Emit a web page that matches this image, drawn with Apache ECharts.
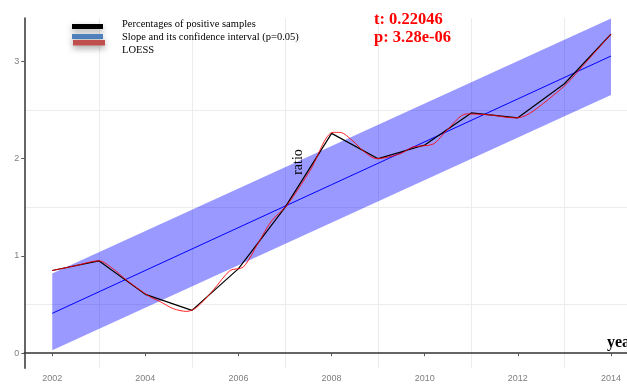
<!DOCTYPE html>
<html>
<head>
<meta charset="utf-8">
<script src="https://cdn.jsdelivr.net/npm/echarts@6/dist/echarts.min.js"></script>
<style>
  html, body { margin: 0; padding: 0; background: #fff; }
  #chart { width: 627px; height: 385px; }
</style>
</head>
<body>
<div id="chart"></div>
<script>
// Yearly share of positive samples
const years = [2002, 2003, 2004, 2005, 2006, 2007, 2008, 2009, 2010, 2011, 2012, 2013, 2014];
const ratio = [0.85, 0.95, 0.605, 0.44, 0.87, 1.50, 2.26, 2.00, 2.14, 2.47, 2.42, 2.77, 3.28];

// Linear trend and its 95% band, given at the first and last year
const fitYears = [2002, 2014];
const fitValues = [0.41, 3.055];
const bandLower = [0.03, 2.655];
const bandUpper = [0.82, 3.44];

// LOESS curve samples [year, value]
const loessYears = [2002.0, 2002.5, 2003.0, 2003.3, 2003.6, 2004.1, 2004.32, 2004.6, 2004.89, 2005.1, 2005.46,
  2005.82, 2006.1, 2006.42, 2006.71, 2007.04, 2007.54, 2008.03, 2008.18, 2008.46, 2008.68, 2008.97,
  2009.47, 2009.75, 2010.18, 2010.47, 2010.9, 2011.4, 2011.9, 2012.1, 2012.33, 2012.76, 2013.05, 2013.48, 2014.0];
const loessValues = [0.85, 0.90, 0.95, 0.87, 0.75, 0.58, 0.53, 0.458, 0.43, 0.47, 0.65,
  0.85, 0.885, 1.13, 1.36, 1.52, 1.88, 2.27, 2.27, 2.18, 2.08, 2.00,
  2.05, 2.12, 2.15, 2.29, 2.46, 2.45, 2.42, 2.43, 2.49, 2.65, 2.77, 3.00, 3.28];

const xTicks = [2002, 2004, 2006, 2008, 2010, 2012, 2014];
const yTicks = [0, 1, 2, 3];
const xGrid = [2003, 2005, 2007, 2009, 2011, 2013];
const yGrid = [0.5, 1.5, 2.5];

const legendNames = ['Percentages of positive samples', 'Slope and its confidence interval (p=0.05)', 'LOESS'];
const statLines = ['t: 0.22046', 'p: 3.28e-06'];

const chart = echarts.init(document.getElementById('chart'), null, { renderer: 'canvas' });

const axisLabelStyle = { color: '#7f7f7f', fontSize: 9, fontFamily: 'Liberation Sans, Arial, sans-serif' };

chart.setOption({
  animation: false,
  backgroundColor: '#ffffff',
  grid: { left: 24.3, top: 18.1, width: 602.7, height: 350.2, containLabel: false },
  xAxis: {
    type: 'value', min: 2001.4, max: 2014.344,
    axisLine: { show: true, lineStyle: { color: '#333', width: 1.5 } },
    axisTick: { show: true, customValues: xTicks, length: 3, lineStyle: { color: '#555' } },
    axisLabel: Object.assign({ customValues: xTicks, margin: 6, formatter: v => String(v) }, axisLabelStyle),
    splitLine: { show: false }
  },
  yAxis: {
    type: 'value', min: -0.155, max: 3.445,
    axisLine: { show: true, lineStyle: { color: '#333', width: 1.5 } },
    axisTick: { show: true, customValues: yTicks, length: 3, lineStyle: { color: '#555' } },
    axisLabel: Object.assign({ customValues: yTicks, margin: 5, formatter: v => String(v) }, axisLabelStyle),
    splitLine: { show: false }
  },
  series: [
    {
      // light grid lines between the labelled ticks
      type: 'line', data: [], silent: true, z: 0,
      markLine: {
        silent: true, symbol: 'none', label: { show: false }, animation: false, z: 0,
        lineStyle: { color: '#ececec', width: 1, type: 'solid' },
        data: xGrid.map(v => ({ xAxis: v })).concat(yGrid.map(v => ({ yAxis: v })))
      }
    },
    {
      // confidence band of the trend
      type: 'custom', silent: true, z: 2,
      data: [0],
      renderItem: function (params, api) {
        const pts = [];
        for (let i = 0; i < fitYears.length; i++) pts.push(api.coord([fitYears[i], bandUpper[i]]));
        for (let i = fitYears.length - 1; i >= 0; i--) pts.push(api.coord([fitYears[i], bandLower[i]]));
        return { type: 'polygon', shape: { points: pts }, style: { fill: 'rgba(0,0,255,0.4)' } };
      }
    },
    {
      type: 'line', name: legendNames[1], z: 3,
      data: fitYears.map((y, i) => [y, fitValues[i]]),
      symbol: 'none', lineStyle: { color: '#0000ff', width: 1 }
    },
    {
      type: 'line', name: legendNames[0], z: 4,
      data: years.map((y, i) => [y, ratio[i]]),
      symbol: 'none', lineStyle: { color: '#000000', width: 1.2 }
    },
    {
      type: 'line', name: legendNames[2], z: 5,
      data: loessYears.map((y, i) => [y, loessValues[i]]),
      symbol: 'none', smooth: 0.3, lineStyle: { color: '#ff0000', width: 1, opacity: 0.85 }
    }
  ],
  graphic: [
    // legend swatches
    { type: 'rect', z: 10, shape: { x: 72, y: 24, width: 31, height: 5 }, style: { fill: '#000', shadowBlur: 6, shadowColor: 'rgba(0,0,0,0.35)', shadowOffsetY: 3 } },
    { type: 'rect', z: 10, shape: { x: 72, y: 34, width: 31, height: 5 }, style: { fill: '#4f81bd', shadowBlur: 6, shadowColor: 'rgba(0,0,0,0.3)', shadowOffsetY: 3 } },
    { type: 'rect', z: 10, shape: { x: 73, y: 40, width: 32, height: 5.5 }, style: { fill: '#c0504d', shadowBlur: 6, shadowColor: 'rgba(0,0,0,0.35)', shadowOffsetY: 3 } },
    // legend labels
    { type: 'text', z: 10, style: { x: 122, y: 24, text: legendNames[0], font: '10.5px "Liberation Serif", serif', fill: '#000', textVerticalAlign: 'middle' } },
    { type: 'text', z: 10, style: { x: 122, y: 37, text: legendNames[1], font: '10.5px "Liberation Serif", serif', fill: '#000', textVerticalAlign: 'middle' } },
    { type: 'text', z: 10, style: { x: 122, y: 50, text: legendNames[2], font: '10.5px "Liberation Serif", serif', fill: '#000', textVerticalAlign: 'middle' } },
    // test statistics
    { type: 'text', z: 10, style: { x: 374, y: 20.1, text: statLines[0], font: 'bold 16.5px "Liberation Serif", serif', fill: '#ff0000', textVerticalAlign: 'middle' } },
    { type: 'text', z: 10, style: { x: 374, y: 37.7, text: statLines[1], font: 'bold 16.5px "Liberation Serif", serif', fill: '#ff0000', textVerticalAlign: 'middle' } },
    // axis titles
    { type: 'text', z: 10, x: 298, y: 162, rotation: Math.PI / 2, style: { x: 0, y: 0, text: 'ratio', font: '14px "Liberation Serif", serif', fill: '#000', textAlign: 'center', textVerticalAlign: 'middle' } },
    { type: 'text', z: 10, style: { x: 607, y: 342.6, text: 'year', font: 'bold 16px "Liberation Serif", serif', fill: '#000', textVerticalAlign: 'middle' } }
  ]
});
</script>
</body>
</html>
